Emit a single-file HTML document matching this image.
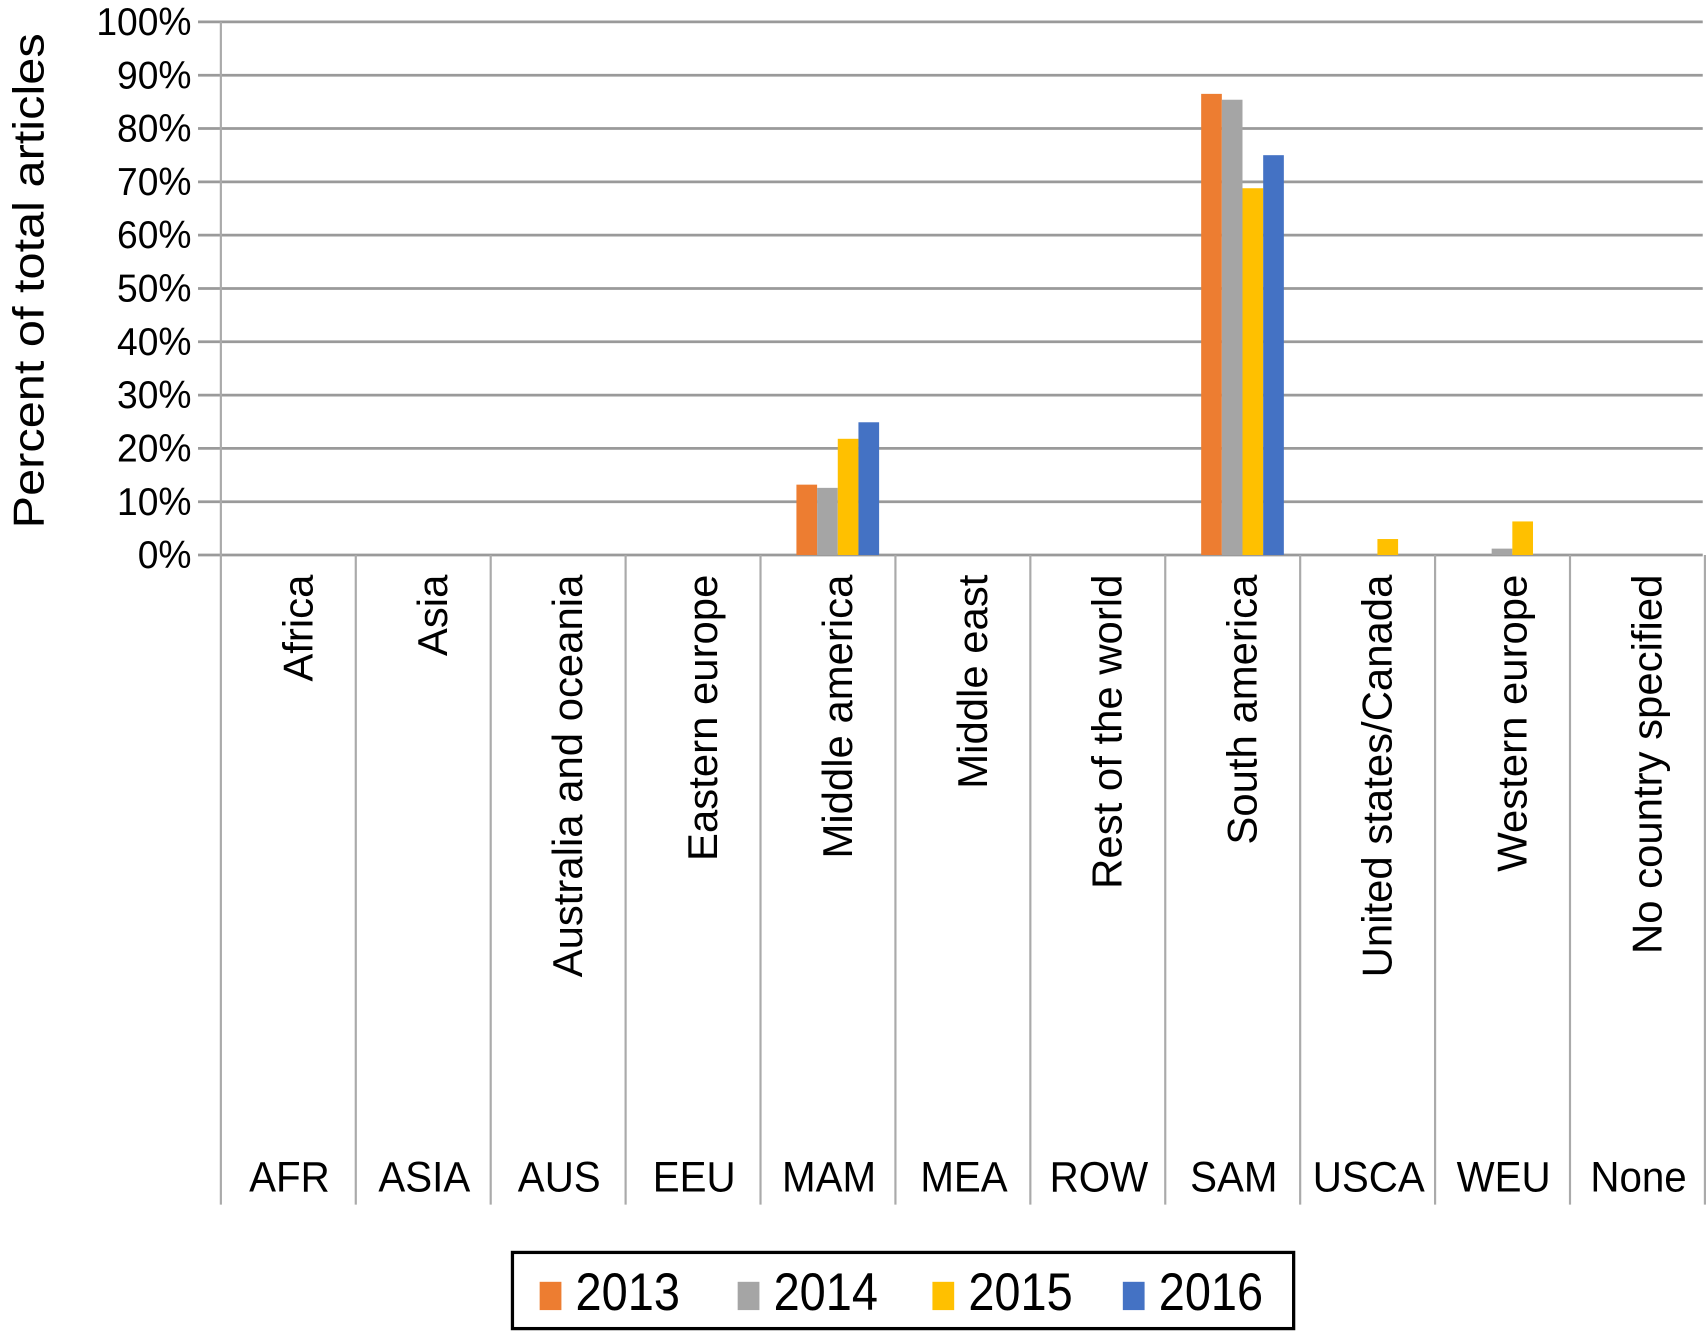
<!DOCTYPE html>
<html><head><meta charset="utf-8"><style>html,body{margin:0;padding:0;background:#fff}svg{display:block}text{font-family:"Liberation Sans",sans-serif;fill:#000}</style></head>
<body>
<svg id="chart" width="1706" height="1332" viewBox="0 0 1568 1224" xmlns="http://www.w3.org/2000/svg"></svg>
<script>
const codes=["AFR","ASIA","AUS","EEU","MAM","MEA","ROW","SAM","USCA","WEU","None"];
const names=["Africa","Asia","Australia and oceania","Eastern europe","Middle america","Middle east","Rest of the world","South america","United states/Canada","Western europe","No country specified"];
const years=["2013","2014","2015","2016"];
const v2013=[0,0,0,0,13.2,0,0,86.5,0,0,0];
const v2014=[0,0,0,0,12.6,0,0,85.4,0,1.2,0];
const v2015=[0,0,0,0,21.8,0,0,68.8,3.0,6.3,0];
const v2016=[0,0,0,0,24.9,0,0,75.0,0,0,0];
const yTicks=[0,10,20,30,40,50,60,70,80,90,100];
const colors=["#ED7D31","#A5A5A5","#FFC000","#4472C4"];
const series=[v2013,v2014,v2015,v2016];

const svg=document.getElementById('chart');
const NS="http://www.w3.org/2000/svg";
const X0=203,X1=1567,Y0=510,Y100=20;
const cw=(X1-X0)/codes.length;
const y=v=>Y0-(v/100)*(Y0-Y100);
const xc=i=>X0+cw*(i+0.5);
function mk(tag,attrs,parent){const e=document.createElementNS(NS,tag);for(const k in attrs)e.setAttribute(k,attrs[k]);(parent||svg).appendChild(e);return e;}

yTicks.forEach(t=>{
  const l=mk('line',{x1:182,x2:1565,y1:y(t),y2:y(t),stroke:'#9a9a9a','stroke-width':2.5});
  
  
  const tx=mk('text',{transform:`translate(176,${y(t)+12}) scale(0.95,1)`,'text-anchor':'end','font-size':36});
  tx.textContent=t+'%';
  
  
});
const ax=mk('line',{x1:X0,x2:X0,y1:Y100,y2:1107,stroke:'#aaa','stroke-width':2});


for(let i=1;i<=codes.length;i++){
  const l=mk('line',{x1:X0+cw*i,x2:X0+cw*i,y1:Y0,y2:1107,stroke:'#aaa','stroke-width':2});
  
  
}
const tt=mk('text',{transform:'translate(40,258) rotate(-90)','text-anchor':'middle','font-size':40,textLength:455,lengthAdjust:'spacingAndGlyphs'});
tt.textContent='Percent of total articles';


codes.forEach((c,i)=>{
  const n=mk('text',{transform:`translate(${xc(i)+22},528) rotate(-90)`,'text-anchor':'end','font-size':38.5});
  n.textContent=names[i];
  
  
  const ct=mk('text',{transform:`translate(${xc(i)+1},1095) scale(0.95,1)`,'text-anchor':'middle','font-size':39});
  ct.textContent=c;
  
  
});
const bw=19,gw=bw*4,off=9;
series.forEach((s,k)=>{
  s.forEach((v,i)=>{
    if(v<=0)return;
    const r=mk('rect',{x:xc(i)+off-gw/2+k*bw,y:y(v),width:bw,height:Y0-y(v),fill:colors[k]});
    
    
  });
});
const lg=mk('g',{});


mk('rect',{x:471,y:1151,width:718,height:70,fill:'#fff',stroke:'#000','stroke-width':3},lg);
const lx=[496,678,857,1032];
years.forEach((yr,k)=>{
  const g=mk('g',{},lg);
  
  
  mk('rect',{x:lx[k],y:1178,width:20,height:26,fill:colors[k]},g);
  const t=mk('text',{transform:`translate(${lx[k]+33},1204) scale(0.88,1)`,'font-size':49},g);
  t.textContent=yr;
});
</script>
</body></html>
